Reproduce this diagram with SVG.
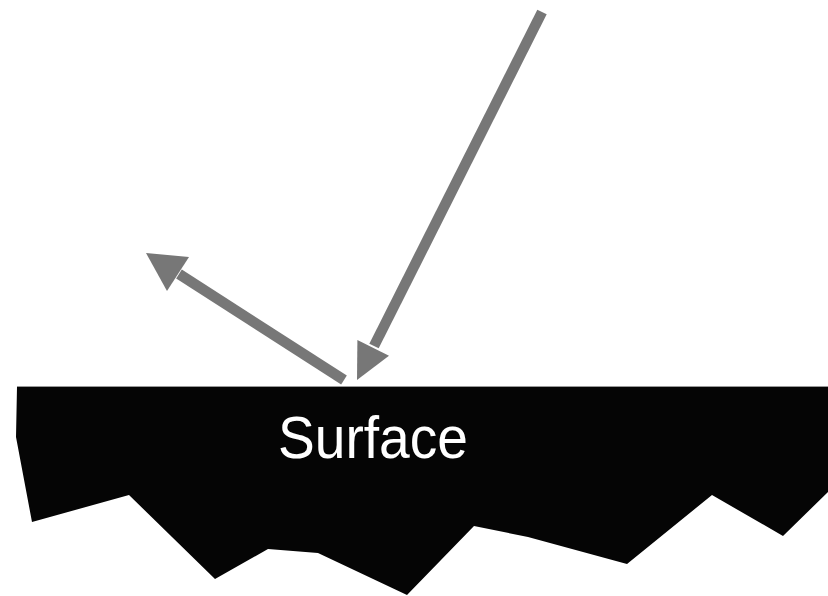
<svg xmlns="http://www.w3.org/2000/svg" width="828" height="596" viewBox="0 0 828 596">
<style>
.ln{stroke:#777;stroke-width:10.5;fill:none;stroke-linecap:butt}
.hd{fill:#777;stroke:none}
.lbl{font-family:"Liberation Sans",Arial,sans-serif;font-size:60px;fill:#fff}
</style>
<rect width="828" height="596" fill="#fff"/>
<g id="surface">
<polygon fill="#050505" points="17,387 828,387 828,492 783,536 712,495 627,564 528,537 474,526 407,595 318,553 268,549 215,579 129,495 32,522 16,437"/>
<line x1="17" y1="386.5" x2="828" y2="386.5" stroke="#999" stroke-width="1"/>
<text class="lbl" x="278" y="458" textLength="190" lengthAdjust="spacingAndGlyphs">Surface</text>
</g>
<g id="connectors">
<g id="incoming">
<line class="ln" x1="542" y1="12" x2="374" y2="346"/>
<polygon class="hd" points="357,380 389,355.8 357.4,340"/>
</g>
<g id="reflected">
<line class="ln" x1="344" y1="380" x2="179" y2="274"/>
<polygon class="hd" points="146,253 189,257 167,291"/>
</g>
</g>
</svg>
